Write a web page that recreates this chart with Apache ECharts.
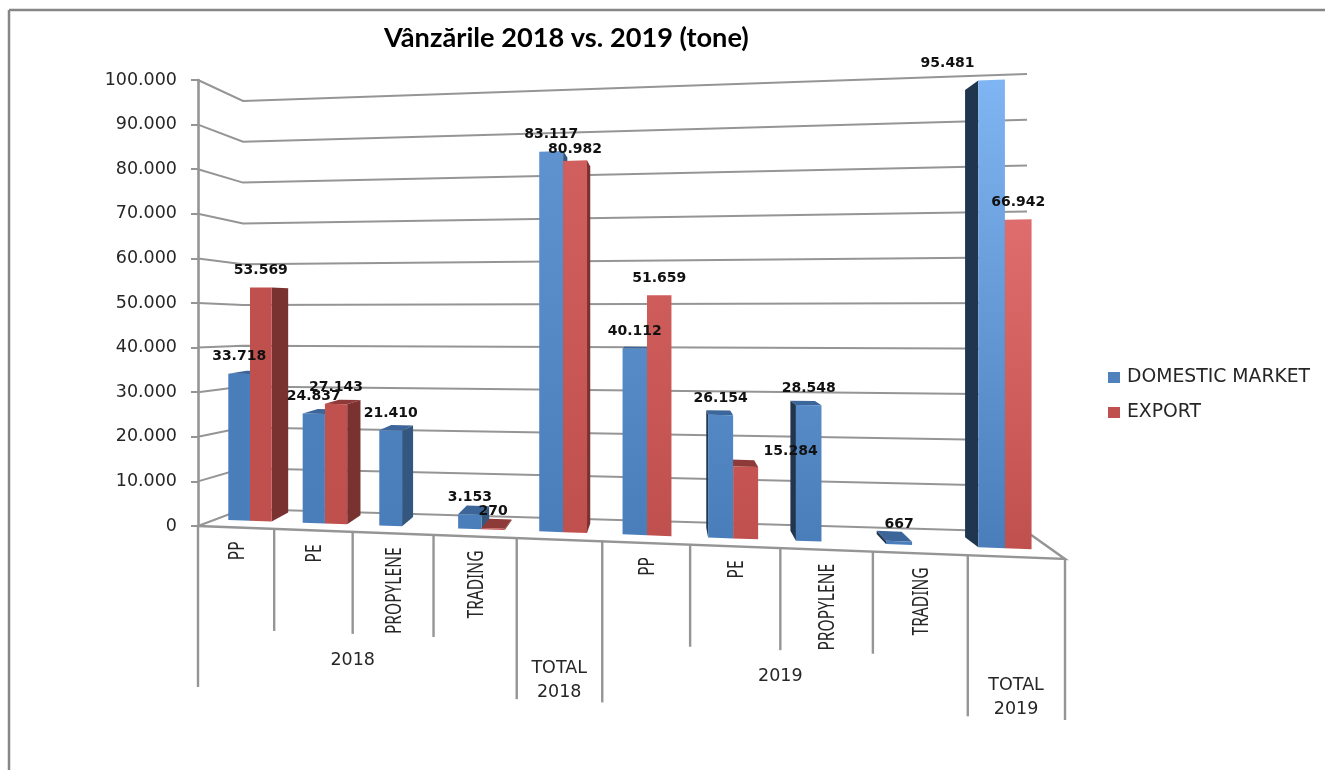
<!DOCTYPE html>
<html>
<head>
<meta charset="utf-8">
<style>html,body{margin:0;padding:0;background:#fff}#chart{width:1325px;height:770px}</style>
<script src="https://cdn.jsdelivr.net/npm/echarts@6/dist/echarts.min.js"></script>
</head>
<body>
<div id="chart"></div>
<script>
const categories = ['PP','PE','PROPYLENE','TRADING','TOTAL\n2018','PP','PE','PROPYLENE','TRADING','TOTAL\n2019'];
const domesticMarket = [33718,24837,21410,3153,83117,40112,26154,28548,667,95481];
const exportSales = [53569,27143,null,270,80982,51659,15284,null,null,66942];
const yTicks = [0,10000,20000,30000,40000,50000,60000,70000,80000,90000,100000];
const groupLabels = ['2018','2019'];

// view of the 3D scene
const VP = [664, 305], DEPTH = 0.042, FULL = 100000;
const GRID = {left:198, top:80, width:867, height:446};
const GRAY = '#959595', LINE_W = 2;
const LONG_TICK = 161, SHORT_TICK = 102;
const longTicks = [0,4,5,9,10];
const groupAt = [2,7];
const labelNudge = {'0:9':[-44,0], '1:6':[45,2], '1:4':[0,6]};
const TXT = '#262626';

const slotX = t => 198 + 75*t + 1.17*t*t;
const floorY = x => 526 + (x-198)*33/867;
const centerX = i => 250 + 73.8*i + 1.12*i*i;
const halfW = i => 21.7 + 0.55*i;
const planeBase = x => 520 + (x-228)*0.0364;
const planeScale = x => (0.004363 + (x-260)*7.33e-7) * FULL / GRID.height;
const back = p => [p[0]+(VP[0]-p[0])*DEPTH, p[1]+(VP[1]-p[1])*DEPTH];
const mix = (a,b,k) => 'rgb('+a.map((c,j)=>Math.round(c+(b[j]-c)*k)).join(',')+')';
const dotted = v => String(v).replace(/\B(?=(\d{3})+(?!\d))/g,'.');

function barRender(seriesIdx, pal){
  return function(params, api){
    const i = api.value(0), v = api.value(1);
    const cs = params.coordSys;
    const pxTop = api.coord([i, v])[1], pxBase = api.coord([i, 0])[1];
    const band = cs.width/categories.length;
    const slot = Math.round((api.coord([i, v])[0]-cs.x)/band - 0.5);
    const c = centerX(slot), w = halfW(slot);
    const xl = seriesIdx===0 ? c-w : c, xr = seriesIdx===0 ? c : c+w;
    const h = pxBase-pxTop;
    const yAt = x => planeBase(x) - h*planeScale(x);
    const topL = [xl,yAt(xl)], topR = [xr,yAt(xr)];
    const botL = [xl,planeBase(xl)], botR = [xr,planeBase(xr)];
    const z = c < VP[0] ? (seriesIdx===0?10:20) : (seriesIdx===0?20:10);
    const kids = [];
    if (topL[1] > VP[1]) kids.push({type:'polygon',z2:z,shape:{points:[topL,topR,back(topR),back(topL)]},style:{fill:pal.top}});
    if (xr < VP[0]) kids.push({type:'polygon',z2:z,shape:{points:[topR,back(topR),back(botR),botR]},style:{fill:pal.sideR}});
    if (xl > VP[0]) kids.push({type:'polygon',z2:z,shape:{points:[topL,back(topL),back(botL),botL]},style:{fill:pal.sideL}});
    const lift = v/FULL*slot/9;
    kids.push({type:'polygon',z2:z+1,shape:{points:[topL,topR,botR,botL]},style:{
      fill:new echarts.graphic.LinearGradient(0,0,0,1,[
        {offset:0,color:mix(pal.base,pal.light,lift)},
        {offset:1,color:mix(pal.base,pal.base,0)}])}});
    const n = labelNudge[seriesIdx+':'+slot] || [0,0];
    kids.push({type:'text',z2:100,x:(xl+xr)/2+n[0],y:(topL[1]+topR[1])/2-17+n[1],style:{
      text:dotted(v),fill:'#111',align:'center',verticalAlign:'middle',
      font:'bold 14px "DejaVu Sans"'}});
    return {type:'group',children:kids};
  };
}

function wallRender(params, api){
  const cs = params.coordSys;
  const h = cs.y+cs.height-api.coord([0,api.value(0)])[1];
  const f = h/cs.height;
  const a = [198, 526-f*446];
  const b = [243, 509-f*408];
  const d = [1027, 532-f*458];
  return {type:'polyline',z2:1,shape:{points:[a,b,d]},style:{stroke:GRAY,lineWidth:LINE_W,fill:null}};
}

function floorRender(params, api){
  const cs = params.coordSys;
  const i = api.value(0);
  const band = cs.width/categories.length;
  const t0 = Math.round((api.coord([i,0])[0]-cs.x)/band-0.5);
  const kids = [];
  const tick = t => {
    const x = slotX(t), y = floorY(x), len = longTicks.includes(t)?LONG_TICK:SHORT_TICK;
    kids.push({type:'line',z2:1,shape:{x1:x,y1:y,x2:x,y2:y+len},style:{stroke:GRAY,lineWidth:LINE_W+0.4}});
  };
  tick(t0);
  if (t0===categories.length-1) tick(t0+1);
  const mx = slotX(t0+0.5), my = floorY(mx);
  const name = categories[i];
  if (name.indexOf('\n')>=0){
    kids.push({type:'text',z2:2,x:mx,y:my+140.5,style:{text:name,fill:TXT,align:'center',verticalAlign:'middle',lineHeight:23.5,font:'17.5px "DejaVu Sans"'}});
  } else {
    kids.push({type:'text',z2:2,x:mx+2,y:my+14,rotation:Math.PI/2,scaleX:0.74,style:{text:name,fill:TXT,align:'right',verticalAlign:'middle',font:'21px "Noto Sans"'}});
  }
  const g = groupAt.indexOf(t0);
  if (g>=0){
    const gx = slotX(t0), gy = floorY(gx);
    kids.push({type:'text',z2:2,x:gx,y:gy+128.5,style:{text:groupLabels[g],fill:TXT,align:'center',verticalAlign:'middle',font:'17.5px "DejaVu Sans"'}});
  }
  if (t0===0){
    const e = [slotX(10),floorY(slotX(10))];
    kids.push({type:'polyline',z2:1,shape:{points:[[198,526],e,[1027,532]]},style:{stroke:GRAY,lineWidth:LINE_W+0.4,fill:null}});
  }
  return {type:'group',children:kids};
}

const domesticPal = {base:[74,126,187],light:[130,184,245],sideR:'#34577f',sideL:'#20364f',top:'#3c659a'};
const exportPal = {base:[192,80,77],light:[240,123,125],sideR:'#7a3230',sideL:'#7a3230',top:'#8e3a38'};
const pts = arr => arr.map((v,i)=>[i,v]).filter(d=>d[1]!==null);

const chart = echarts.init(document.getElementById('chart'),null,{renderer:'canvas'});
chart.setOption({
  animation:false,
  backgroundColor:'#fff',
  title:{text:'Vânzările 2018 vs. 2019 (tone)',left:384,top:25,padding:0,textStyle:{fontFamily:'Lato',fontWeight:'bold',fontSize:27.2,color:'#000'}},
  legend:{data:['DOMESTIC MARKET','EXPORT'],orient:'vertical',left:1108,top:368,padding:0,itemWidth:12,itemHeight:11,itemGap:16,icon:'rect',selectedMode:false,
    textStyle:{fontFamily:'DejaVu Sans',fontSize:18.8,color:TXT,padding:[0,0,0,2]}},
  grid:GRID,
  xAxis:{type:'category',data:categories,axisLine:{show:false},axisTick:{show:false},axisLabel:{show:false},splitLine:{show:false}},
  yAxis:{type:'value',min:0,max:100000,interval:10000,
    axisLine:{show:true,lineStyle:{color:GRAY,width:2.6}},
    axisTick:{show:true,length:7,lineStyle:{color:GRAY,width:LINE_W}},
    splitLine:{show:false},
    axisLabel:{margin:21,color:TXT,fontFamily:'DejaVu Sans',fontSize:17.5,padding:[6,0,0,0],formatter:v=>dotted(v)}},
  series:[
    {type:'custom',name:'walls',silent:true,data:yTicks.map(v=>[v]),encode:{y:0},renderItem:wallRender,clip:false},
    {type:'custom',name:'floor',silent:true,data:categories.map((c,i)=>[i]),encode:{x:0},renderItem:floorRender,clip:false},
    {type:'custom',name:'DOMESTIC MARKET',silent:true,itemStyle:{color:'#4f81bd'},data:pts(domesticMarket),encode:{x:0,y:1},renderItem:barRender(0,domesticPal),clip:false},
    {type:'custom',name:'EXPORT',silent:true,itemStyle:{color:'#c0504d'},data:pts(exportSales),encode:{x:0,y:1},renderItem:barRender(1,exportPal),clip:false}
  ],
  graphic:[
    {type:'line',silent:true,shape:{x1:9,y1:10,x2:1325,y2:10},style:{stroke:'#868686',lineWidth:2.5}},
    {type:'line',silent:true,shape:{x1:9,y1:10,x2:9,y2:770},style:{stroke:'#868686',lineWidth:2.5}}
  ]
});
</script>
</body>
</html>
